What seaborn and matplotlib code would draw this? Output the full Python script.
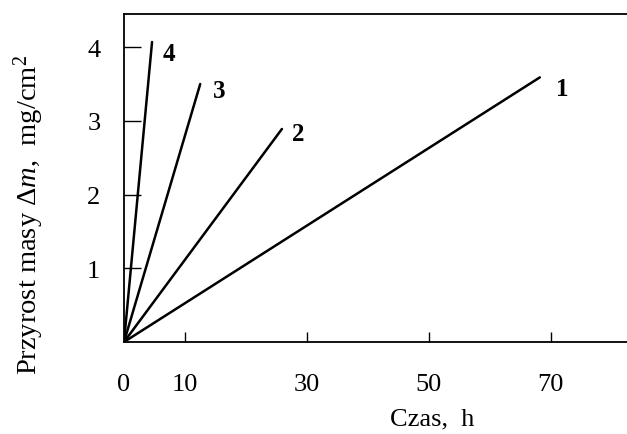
import pandas as pd
import matplotlib
matplotlib.use("Agg")
import matplotlib.pyplot as plt
import seaborn as sns

# curve labels and end points of each straight line (starts at origin)
curves = ["1", "2", "3", "4"]
time_end = [68.2, 25.9, 12.5, 4.6]
mass_end = [3.59, 2.89, 3.50, 4.07]

x_ticks = [0, 10, 30, 50, 70]
y_ticks = [1, 2, 3, 4]

sns.set_style("ticks", {"text.color": "black", "axes.labelcolor": "black",
                        "xtick.color": "black", "ytick.color": "black",
                        "axes.edgecolor": "black"})
plt.rcParams["font.family"] = ["Liberation Serif", "DejaVu Serif"]
plt.rcParams["mathtext.fontset"] = "custom"
plt.rcParams["mathtext.rm"] = "Liberation Serif"
plt.rcParams["mathtext.it"] = "Liberation Serif:italic"

records = []
for c, t, m in zip(curves, time_end, mass_end):
    records.append({"curve": c, "time": 0.0, "mass": 0.0})
    records.append({"curve": c, "time": t, "mass": m})
df = pd.DataFrame(records)

fig = plt.figure(figsize=(6.27, 4.35), dpi=100)
ax = fig.add_axes([124 / 627, (435 - 343) / 435, 503 / 627, 328 / 435])

sns.lineplot(data=df, x="time", y="mass", hue="curve",
             palette=["black"] * 4, linewidth=1.8, legend=False, ax=ax)

# curve numbers next to line ends
offsets = {"1": (16, -8), "2": (12, -3), "3": (14, -5), "4": (12, -8)}
for c, t, m in zip(curves, time_end, mass_end):
    ax.annotate(c, (t, m), xytext=offsets[c], textcoords="offset points",
                ha="center", va="center", fontsize=18, fontweight="bold")

ax.set_xlim(0, 82.5)
ax.set_ylim(0, 4.45)
ax.set_xticks(x_ticks)
ax.set_yticks(y_ticks)
ax.tick_params(axis="x", direction="in", length=7, width=1, pad=22, labelsize=19)
ax.tick_params(axis="y", direction="in", length=12, width=1, pad=17, labelsize=19)
ax.xaxis.get_major_ticks()[0].tick1line.set_visible(False)

for s in ["left", "bottom", "top"]:
    ax.spines[s].set_linewidth(1.3)
ax.spines["right"].set_visible(False)

ax.set_xlabel("Czas,  h", fontsize=19)
ax.xaxis.set_label_coords(0.612, -0.2)
ax.set_ylabel(r"Przyrost masy $\Delta m$,  mg/cm$^2$", fontsize=20.5)
ax.yaxis.set_label_coords(-0.155, 0.39)

fig.savefig("out.png", dpi=100)
